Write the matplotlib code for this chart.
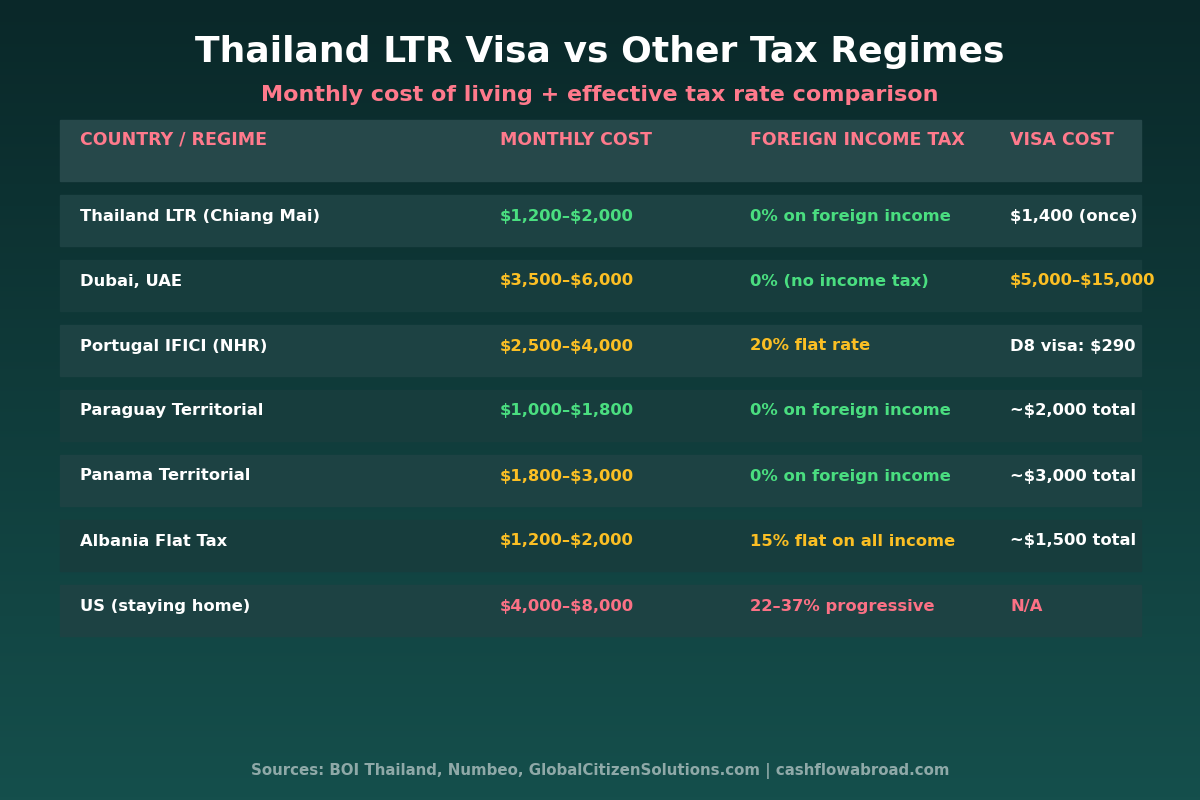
import matplotlib.pyplot as plt
import numpy as np

plt.rcParams["text.parse_math"] = False

headers = ["COUNTRY / REGIME", "MONTHLY COST", "FOREIGN INCOME TAX", "VISA COST"]
countries = ["Thailand LTR (Chiang Mai)", "Dubai, UAE", "Portugal IFICI (NHR)",
             "Paraguay Territorial", "Panama Territorial", "Albania Flat Tax",
             "US (staying home)"]
monthly = ["$1,200–$2,000", "$3,500–$6,000", "$2,500–$4,000", "$1,000–$1,800",
           "$1,800–$3,000", "$1,200–$2,000", "$4,000–$8,000"]
tax = ["0% on foreign income", "0% (no income tax)", "20% flat rate",
       "0% on foreign income", "0% on foreign income", "15% flat on all income",
       "22–37% progressive"]
visa = ["$1,400 (once)", "$5,000–$15,000", "D8 visa: $290", "~$2,000 total",
        "~$3,000 total", "~$1,500 total", "N/A"]

G, Y, P, W = "#4ade80", "#fbbf24", "#fb7185", "#ffffff"
monthly_col = [G, Y, Y, G, Y, Y, P]
tax_col = [G, G, Y, G, G, Y, P]
visa_col = [W, Y, W, W, W, W, P]

fig = plt.figure(figsize=(12, 8), dpi=100)
ax = fig.add_axes([0, 0, 1, 1])
ax.set_xlim(0, 1200)
ax.set_ylim(800, 0)
ax.axis("off")

# background gradient
grad = np.linspace(0, 1, 256).reshape(-1, 1)
top = np.array([0x0a, 0x28, 0x29]) / 255
bot = np.array([0x15, 0x4f, 0x4c]) / 255
img = top + (bot - top) * grad[..., None]
ax.imshow(img, extent=[0, 1200, 800, 0], aspect="auto", zorder=0)

ax.text(600, 52, "Thailand LTR Visa vs Other Tax Regimes", color="white",
        fontsize=26, fontweight="bold", ha="center", va="center")
ax.text(600, 95, "Monthly cost of living + effective tax rate comparison",
        color="#ff7a8c", fontsize=16, fontweight="bold", ha="center", va="center")

xs = [80, 500, 750, 1010]
ax.add_patch(plt.Rectangle((60, 120), 1081, 61, color="#26484a", zorder=1))
for x, h in zip(xs, headers):
    ax.text(x, 140, h, color="#ff7a8c", fontsize=12.5, fontweight="bold",
            va="center", zorder=2)

for i in range(len(countries)):
    y0 = 195 + 65 * i
    fc = "#1d4243" if i % 2 == 0 else "#173d3d"
    ax.add_patch(plt.Rectangle((60, y0), 1081, 51, color=fc, zorder=1))
    vals = [countries[i], monthly[i], tax[i], visa[i]]
    cols = [W, monthly_col[i], tax_col[i], visa_col[i]]
    for x, v, c in zip(xs, vals, cols):
        ax.text(x, y0 + 21, v, color=c, fontsize=11.8, fontweight="bold",
                va="center", zorder=2)

ax.text(600, 771, "Sources: BOI Thailand, Numbeo, GlobalCitizenSolutions.com | cashflowabroad.com",
        color="#8fa9a8", fontsize=10.8, fontweight="bold", ha="center", va="center")

fig.savefig("out.png", dpi=100)
